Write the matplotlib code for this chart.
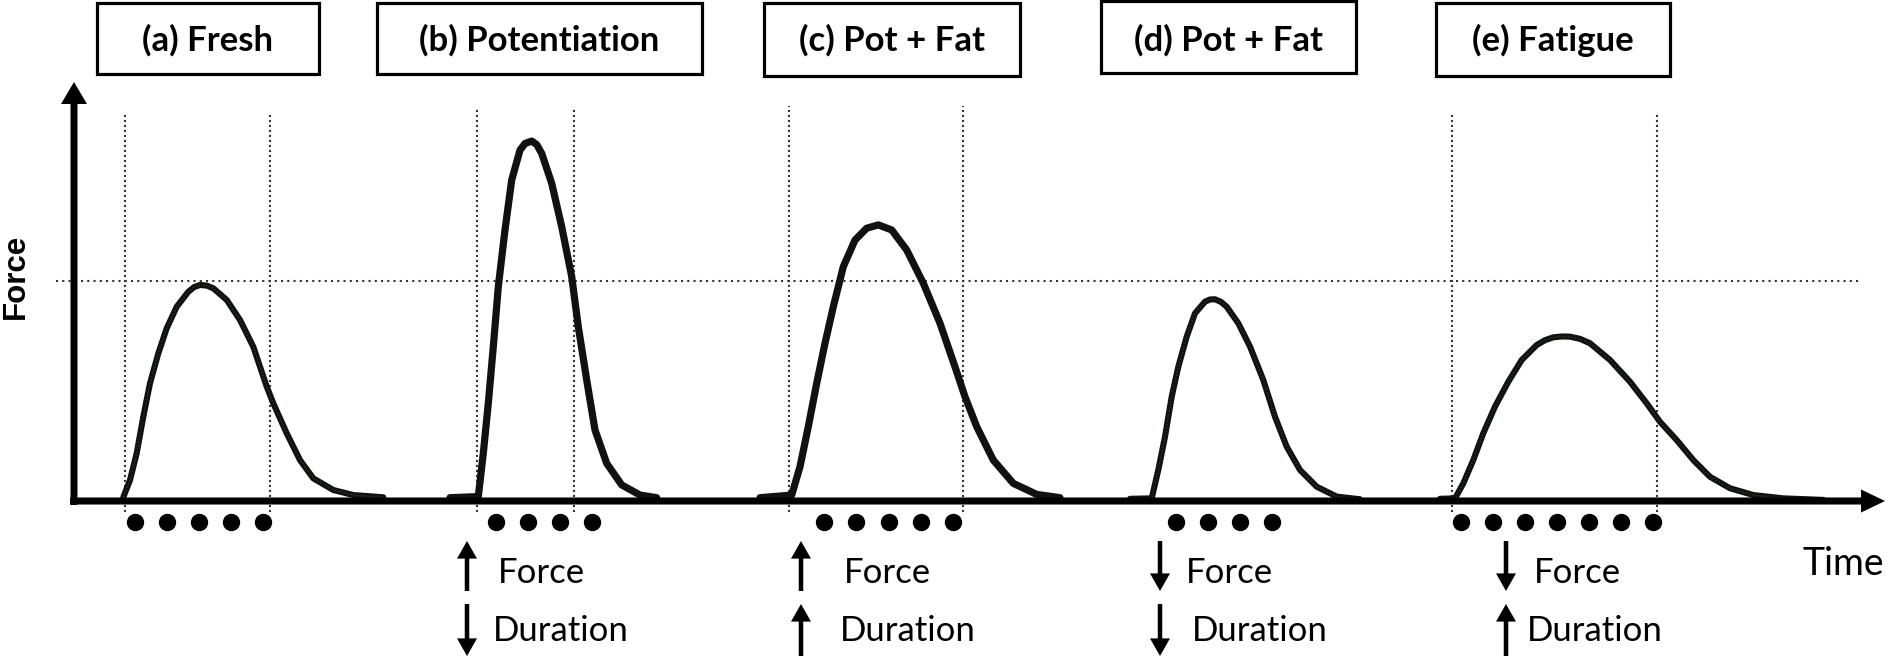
import matplotlib
matplotlib.use("Agg")
import matplotlib.pyplot as plt
import matplotlib.patches as patches

# panel headings
panel_titles = ["(a) Fresh", "(b) Potentiation", "(c) Pot + Fat", "(d) Pot + Fat", "(e) Fatigue"]

# twitch traces: time (a.u.) and force relative to the fresh reference level
time_a = [1.233, 1.30, 1.367, 1.433, 1.50, 1.583, 1.667, 1.767, 1.883, 1.94, 2.00, 2.067, 2.133, 2.267,
          2.40, 2.533, 2.667, 2.733, 2.867, 3.00, 3.133, 3.333, 3.533, 3.833]
force_a = [0.017, 0.095, 0.217, 0.383, 0.535, 0.671, 0.785, 0.883, 0.951, 0.972, 0.982, 0.979, 0.967,
           0.914, 0.823, 0.701, 0.520, 0.444, 0.308, 0.186, 0.103, 0.050, 0.027, 0.017]

time_b = [4.50, 4.783, 4.833, 4.883, 4.933, 4.983, 5.05, 5.117, 5.20, 5.25, 5.317, 5.367, 5.417, 5.517,
          5.617, 5.717, 5.783, 5.867, 5.95, 6.067, 6.217, 6.40, 6.567]
force_b = [0.015, 0.020, 0.217, 0.444, 0.701, 0.974, 1.232, 1.459, 1.595, 1.625, 1.636, 1.620, 1.580,
           1.444, 1.247, 1.020, 0.792, 0.550, 0.323, 0.171, 0.073, 0.027, 0.015]

time_c = [7.60, 7.917, 8.00, 8.083, 8.167, 8.25, 8.333, 8.433, 8.55, 8.667, 8.783, 8.917, 9.067,
          9.233, 9.40, 9.55, 9.65, 9.767, 9.933, 10.133, 10.367, 10.60]
force_c = [0.015, 0.027, 0.156, 0.338, 0.535, 0.717, 0.883, 1.065, 1.186, 1.240, 1.255, 1.232, 1.141,
           0.990, 0.808, 0.610, 0.474, 0.338, 0.186, 0.080, 0.030, 0.015]

time_d = [11.30, 11.517, 11.583, 11.65, 11.717, 11.783, 11.867, 11.95, 12.05, 12.10, 12.15, 12.21,
          12.267, 12.383, 12.50, 12.633, 12.75, 12.867, 13.00, 13.167, 13.367, 13.60]
force_d = [0.010, 0.012, 0.141, 0.292, 0.474, 0.610, 0.747, 0.853, 0.906, 0.916, 0.917, 0.905,
           0.883, 0.808, 0.702, 0.550, 0.383, 0.247, 0.141, 0.065, 0.020, 0.008]

time_e = [14.40, 14.55, 14.633, 14.733, 14.833, 14.95, 15.083, 15.217, 15.367, 15.45, 15.533, 15.62,
          15.70, 15.80, 15.90, 16.10, 16.30, 16.467, 16.60, 16.767, 16.933, 17.10, 17.30, 17.533,
          17.833, 18.233]
force_e = [0.010, 0.012, 0.080, 0.186, 0.308, 0.429, 0.542, 0.641, 0.709, 0.731, 0.744, 0.748,
           0.747, 0.737, 0.717, 0.641, 0.542, 0.444, 0.360, 0.277, 0.186, 0.110, 0.058, 0.027,
           0.012, 0.005]

# stimulation pulses under each twitch
pulses_a = [1.348, 1.665, 1.991, 2.308, 2.629]
pulses_b = [4.955, 5.277, 5.60, 5.92]
pulses_c = [8.24, 8.56, 8.89, 9.205, 9.527]
pulses_d = [11.76, 12.08, 12.40, 12.72]
pulses_e = [14.61, 14.93, 15.25, 15.57, 15.89, 16.21, 16.53]

# contraction windows (dotted verticals), none drawn for (d)
window_a = [1.25, 2.70]
window_b = [4.767, 5.743]
window_c = [7.893, 9.627]
window_d = []
window_e = [14.517, 16.573]

ref_level = 1.0
pulse_level = -0.095

force_change = ["", "up", "up", "down", "down"]
duration_change = ["", "down", "up", "down", "up"]

# ---- layout (pixels of the 1888x664 canvas) ----
W, H = 1888, 664
base_px, unit_px = 501, 220


def fx(px):
    return px / 100


def fy(py):
    return (base_px - py) / unit_px


fig = plt.figure(figsize=(W / 100, H / 100), dpi=100)
ax = fig.add_axes([0, 0, 1, 1])
ax.set_xlim(0, W / 100)
ax.set_ylim(fy(H), fy(0))
ax.axis("off")

fam = ["Lato", "DejaVu Sans"]

# reference level and windows
ax.hlines(ref_level, fx(56), fx(1861), colors="#333333", lw=1.5, linestyles=(0, (1, 2)), zorder=1)
win_tops = [113, 108, 106, 113, 113]
for wins, top in zip([window_a, window_b, window_c, window_d, window_e], win_tops):
    if wins:
        ax.vlines(wins, fy(512), fy(top), colors="#333333", lw=1.5, linestyles=(0, (1, 1.4)), zorder=1)

# twitch curves
traces = [(time_a, force_a, 4.4, True), (time_b, force_b, 5.2, False), (time_c, force_c, 5.2, False),
          (time_d, force_d, 4.4, True), (time_e, force_e, 4.4, True)]
for t, f, lw, green in traces:
    ax.plot(t, f, color="#111111", lw=lw, solid_joinstyle="round", solid_capstyle="round", zorder=2)
    if green:
        ax.plot(t, f, color="#2c4f2c", lw=0.8, ls=(0, (1, 2)), zorder=2)

# axes arrows
ax.arrow(fx(74), fy(505), 0, fy(82) - fy(505), width=0.07, head_width=0.26, head_length=0.1,
         length_includes_head=True, fc="k", ec="none", zorder=3)
ax.arrow(fx(70), 0, fx(1885) - fx(70), 0, width=0.032, head_width=0.105, head_length=0.24,
         length_includes_head=True, fc="k", ec="none", zorder=3)

# pulses
for p in [pulses_a, pulses_b, pulses_c, pulses_d, pulses_e]:
    ax.plot(p, [pulse_level] * len(p), "o", ms=11.5, color="k", ls="none", zorder=3)

# title boxes
box_left = [97, 377, 764, 1101, 1436]
box_right = [319, 702, 1020, 1356, 1670]
box_top = [3, 3, 3, 1, 3]
box_bot = [74, 74, 76, 73, 76]
for i, title in enumerate(panel_titles):
    l, r = box_left[i], box_right[i]
    rect = patches.Rectangle((fx(l), fy(box_bot[i])), fx(r) - fx(l), fy(box_top[i]) - fy(box_bot[i]),
                             fill=False, lw=2.3, ec="k", zorder=3)
    ax.add_patch(rect)
    ax.text(fx((l + r) / 2), fy(51), title, ha="center", va="baseline", fontsize=25,
            fontweight="bold", family=fam)

# axis labels
ax.text(fx(16), fy(276), "Force", rotation=90, ha="center", va="center", fontsize=22.5,
        fontweight="bold", family=["Liberation Sans", "DejaVu Sans"])
ax.text(fx(1802), fy(575), "Time", ha="left", va="baseline", fontsize=27, family=fam)

# change annotations
arrow_x = [None, 467, 801, 1160, 1506]
force_text_x = [None, 498, 844, 1186, 1534]
dur_text_x = [None, 493, 840, 1192, 1527]
rows = [(force_change, force_text_x, "Force", 541, 591, 583),
        (duration_change, dur_text_x, "Duration", 604, 656, 641)]
for changes, text_x, label, y_hi, y_lo, y_base in rows:
    for i, ch in enumerate(changes):
        if not ch:
            continue
        x = fx(arrow_x[i])
        if ch == "up":
            y0, y1 = fy(y_lo), fy(y_hi)
        else:
            y0, y1 = fy(y_hi), fy(y_lo)
        ax.arrow(x, y0, 0, y1 - y0, width=0.045, head_width=0.2, head_length=0.08,
                 length_includes_head=True, fc="k", ec="none")
        ax.text(fx(text_x[i]), fy(y_base), label, ha="left", va="baseline", fontsize=25, family=fam)

fig.savefig("out.png", dpi=100, facecolor="white")
